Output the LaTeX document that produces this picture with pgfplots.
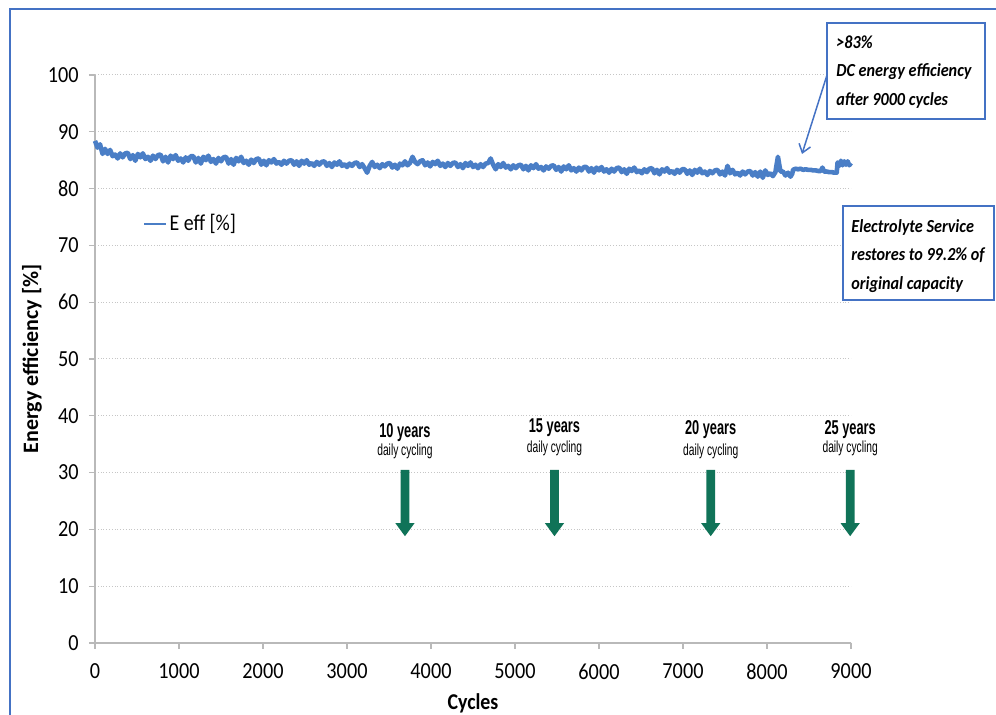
\documentclass[border=0pt]{standalone}
\usepackage{fontspec}
\setmainfont{Carlito}[FakeStretch=0.88]
\newfontfamily\carlito{Carlito}
\newfontfamily\narrow{Liberation Sans}[FakeStretch=0.64]
\usepackage{pgfplots}
\usepackage{pgfplotstable}
\pgfplotsset{compat=1.18}
\usetikzlibrary{arrows.meta}
\definecolor{lineblue}{RGB}{74,126,198}
\definecolor{frameblue}{RGB}{68,114,196}
\definecolor{arrowgreen}{RGB}{16,115,88}

\pgfplotstableread{
x y
0 88.4
30 87.2
60 87.8
90 86.1
120 87.0
150 86.1
180 86.8
210 85.7
240 86.0
270 85.3
300 86.2
330 85.5
360 86.2
390 86.3
420 85.2
450 85.9
480 84.9
510 86.1
540 85.5
570 86.2
600 85.2
630 85.6
660 84.9
690 85.8
720 85.2
750 85.9
780 86.0
810 84.8
840 85.6
870 84.6
900 85.8
930 85.2
960 85.9
990 84.9
1020 85.3
1050 84.6
1080 85.5
1110 84.9
1140 85.7
1170 85.7
1200 84.6
1230 85.4
1260 84.4
1290 85.6
1320 85.0
1350 85.8
1380 84.7
1410 85.2
1440 84.4
1470 85.4
1500 84.8
1530 85.5
1560 85.6
1590 84.4
1620 85.2
1650 84.2
1680 85.4
1710 84.8
1740 85.6
1770 84.5
1800 84.9
1830 84.2
1860 85.1
1890 84.5
1920 85.2
1950 85.3
1980 84.2
2010 84.9
2040 84.1
2070 85.0
2100 84.6
2130 85.2
2160 84.4
2190 84.7
2220 84.2
2250 84.9
2280 84.4
2310 84.9
2340 85.0
2370 84.2
2400 84.8
2430 84.0
2460 84.9
2490 84.4
2520 85.0
2550 84.2
2580 84.5
2610 84.0
2640 84.7
2670 84.2
2700 84.7
2730 84.8
2760 84.0
2790 84.5
2820 83.8
2850 84.6
2880 84.2
2910 84.8
2940 84.0
2970 84.3
3000 83.8
3030 84.4
3060 84.0
3090 84.5
3120 84.6
3150 83.8
3180 84.3
3210 83.6
3240 82.8
3270 84.0
3300 84.7
3330 83.8
3360 84.2
3390 83.6
3420 84.3
3450 83.9
3480 84.4
3510 84.5
3540 83.7
3570 84.2
3600 83.5
3630 84.4
3660 84.1
3690 84.8
3720 84.1
3750 84.5
3780 85.6
3810 84.7
3840 84.3
3870 84.8
3900 85.0
3930 84.1
3960 84.6
3990 83.9
4020 84.7
4050 84.3
4080 84.9
4110 84.0
4140 84.4
4170 83.8
4200 84.5
4230 84.0
4260 84.5
4290 84.6
4320 83.8
4350 84.3
4380 83.6
4410 84.5
4440 84.0
4470 84.6
4500 83.8
4530 84.2
4560 83.6
4590 84.3
4620 83.8
4650 84.4
4680 84.5
4710 85.3
4740 84.2
4770 83.4
4800 84.3
4830 83.8
4860 84.5
4890 83.7
4920 84.0
4950 83.4
4980 84.1
5010 83.6
5040 84.1
5070 84.2
5100 83.4
5130 84.0
5160 83.2
5190 84.1
5220 83.6
5250 84.3
5280 83.5
5310 83.8
5340 83.2
5370 83.9
5400 83.5
5430 84.0
5460 84.1
5490 83.3
5520 83.8
5550 83.0
5580 83.9
5610 83.4
5640 84.1
5670 83.2
5700 83.6
5730 83.0
5760 83.7
5790 83.2
5820 83.8
5850 83.8
5880 83.0
5910 83.6
5940 82.8
5970 83.7
6000 83.2
6030 83.8
6060 83.0
6090 83.4
6120 82.8
6150 83.5
6180 83.0
6210 83.6
6240 83.7
6270 82.9
6300 83.4
6330 82.6
6360 83.5
6390 83.1
6420 83.7
6450 82.9
6480 83.2
6510 82.7
6540 83.4
6570 82.9
6600 83.5
6630 83.6
6660 82.7
6690 83.3
6720 82.5
6750 83.4
6780 83.0
6810 83.6
6840 82.8
6870 83.1
6900 82.6
6930 83.3
6960 82.8
6990 83.4
7020 83.4
7050 82.6
7080 83.2
7110 82.4
7140 83.3
7170 82.8
7200 83.5
7230 82.7
7260 83.0
7290 82.4
7320 83.1
7350 82.7
7380 83.2
7410 83.3
7440 82.5
7470 83.0
7500 82.3
7530 84.0
7560 82.7
7590 83.3
7620 82.5
7650 82.8
7680 82.3
7710 83.0
7740 82.5
7770 83.0
7800 83.1
7830 82.3
7860 82.9
7890 82.1
7920 83.0
7950 81.9
7980 83.2
8010 82.4
8040 82.7
8070 82.2
8100 82.9
8130 85.6
8160 83.0
8190 83.0
8220 82.3
8250 82.8
8280 82.1
8300 82.6
8310 83.3
8340 83.5
8370 83.4
8400 83.5
8430 83.3
8460 83.4
8490 83.3
8520 83.3
8550 83.2
8580 83.2
8610 83.1
8640 83.1
8660 83.7
8680 83.0
8710 83.0
8740 82.9
8770 82.9
8800 82.8
8830 82.8
8840 84.6
8860 84.0
8880 84.9
8900 84.1
8920 84.8
8940 84.2
8960 84.8
8980 84.1
9000 84.5
}\effdata

\newcommand{\greenarrow}[1]{%
  \fill[arrowgreen] ([xshift=-2.2pt]axis cs:#1,30.5) -- ([xshift=2.2pt]axis cs:#1,30.5)
    -- ([xshift=2.2pt]axis cs:#1,21.1) -- ([xshift=4.8pt]axis cs:#1,21.1)
    -- (axis cs:#1,18.8) -- ([xshift=-4.8pt]axis cs:#1,21.1)
    -- ([xshift=-2.2pt]axis cs:#1,21.1) -- cycle;}

\begin{document}
\begin{tikzpicture}
\begin{axis}[
  name=ax, at={(0,0)}, anchor=south west,
  scale only axis, width=378pt, height=284pt,
  xmin=0, xmax=9000, ymin=0, ymax=100,
  clip=false,
  xtick={0,1000,...,9000}, ytick={0,10,...,100},
  axis lines*=left,
  axis line style={draw=gray!55, line width=0.6pt},
  ymajorgrids,
  grid style={densely dotted, gray!45, line width=0.5pt},
  tick align=outside, major tick length=3pt,
  tick style={gray!55, line width=0.6pt},
  /pgf/number format/assume math mode=true,
  /pgf/number format/set thousands separator={},
  tick label style={font=\fontsize{11.5}{12}\selectfont},
  xticklabel style={yshift=-4pt},
  yticklabel style={xshift=-1.7pt},
  xlabel={\bfseries Cycles},
  xlabel style={font=\fontsize{11.3}{12}\selectfont, at={(axis description cs:0.5,-0.1056)}, anchor=center},
  ylabel={\carlito\bfseries Energy efficiency [\%]},
  ylabel style={font=\fontsize{11}{12}\selectfont, at={(axis description cs:-0.0833,0.5)}, anchor=center},
  legend style={at={(axis cs:571,73.8)}, anchor=west, draw=none, fill=none, inner sep=0pt,
    font=\fontsize{11.3}{12}\selectfont, nodes={inner sep=1pt}},
  legend image code/.code={\draw[#1, line width=1.1pt] (0pt,0pt) -- (11pt,0pt);},
  legend cell align=left,
]
\addplot[lineblue, line width=2.3pt, line join=round] table[x=x, y=y] {\effdata};
\addlegendentry{E eff [\%]}

\greenarrow{3690}
\greenarrow{5470}
\greenarrow{7330}
\greenarrow{8990}

\node[font={\fontsize{10}{11}\narrow\bfseries}] at (axis cs:3690,37.1) {10 years};
\node[font={\fontsize{8}{9}\narrow}] at (axis cs:3690,33.8) {daily cycling};
\node[font={\fontsize{10}{11}\narrow\bfseries}] at (axis cs:5470,37.9) {15 years};
\node[font={\fontsize{8}{9}\narrow}] at (axis cs:5470,34.2) {daily cycling};
\node[font={\fontsize{10}{11}\narrow\bfseries}] at (axis cs:7330,37.5) {20 years};
\node[font={\fontsize{8}{9}\narrow}] at (axis cs:7330,33.8) {daily cycling};
\node[font={\fontsize{10}{11}\narrow\bfseries}] at (axis cs:8990,37.5) {25 years};
\node[font={\fontsize{8}{9}\narrow}] at (axis cs:8990,34.2) {daily cycling};
\end{axis}

% outer frame (left and top edges visible)
\draw[frameblue, line width=1pt] (-42.5pt,-60pt) -- (-42.5pt,317pt) -- (470pt,317pt);

% annotation box 1
\draw[frameblue, line width=0.9pt, fill=white] (366pt,262pt) rectangle (445pt,310pt);
\node[anchor=west, align=left, inner sep=0pt, font={\fontsize{9.2}{14.25}\selectfont\bfseries\itshape}]
  at (370.5pt,285.5pt) {>83\%\\DC energy efficiency\\after 9000 cycles};
\draw[frameblue, line width=0.75pt, -{Straight Barb[length=4pt,width=6pt]}] (366pt,284pt) -- (353.5pt,244.5pt);

% annotation box 2
\draw[frameblue, line width=0.9pt, fill=white] (374pt,171.5pt) rectangle (449.5pt,218.5pt);
\node[anchor=west, align=left, inner sep=0pt, font={\fontsize{9.2}{14.25}\selectfont\bfseries\itshape}]
  at (378pt,193.5pt) {Electrolyte Service\\restores to 99.2\% of\\original capacity};

\pgfresetboundingbox
\path[use as bounding box] (-47.5pt,-36pt) rectangle (450.5pt,321.5pt);
\end{tikzpicture}
\end{document}
